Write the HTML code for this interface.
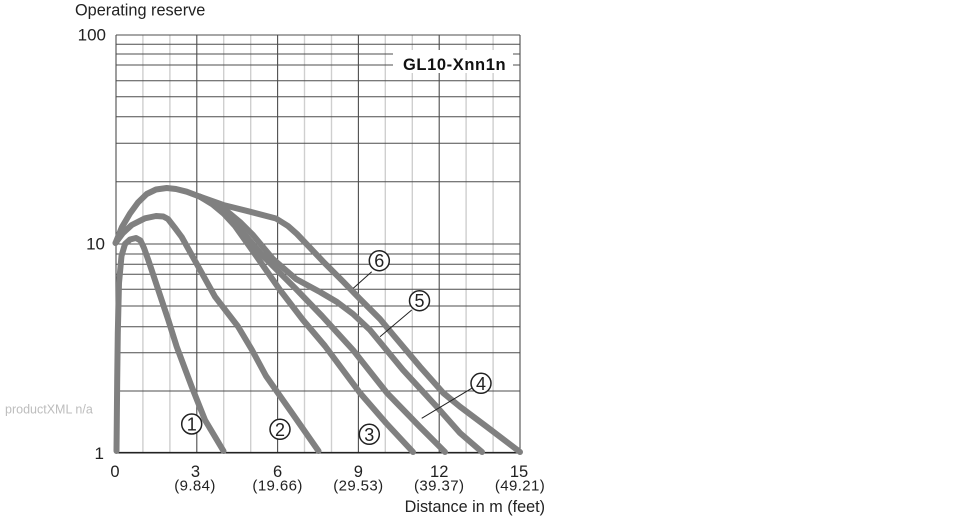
<!DOCTYPE html>
<html>
<head>
<meta charset="utf-8">
<style>
html,body{margin:0;padding:0;background:#fff;}
body{width:970px;height:520px;overflow:hidden;}
svg{display:block;}
text{font-family:"Liberation Sans",sans-serif;fill:#222;}
</style>
</head>
<body>
<svg width="970" height="520" viewBox="0 0 970 520" xmlns="http://www.w3.org/2000/svg">
<rect width="970" height="520" fill="#fff"/>
<!-- minor verticals -->
<g stroke="#cfcfcf" stroke-width="1.4">
<line x1="142.9" y1="35" x2="142.9" y2="452.7"/>
<line x1="169.9" y1="35" x2="169.9" y2="452.7"/>
<line x1="223.7" y1="35" x2="223.7" y2="452.7"/>
<line x1="250.7" y1="35" x2="250.7" y2="452.7"/>
<line x1="304.5" y1="35" x2="304.5" y2="452.7"/>
<line x1="331.5" y1="35" x2="331.5" y2="452.7"/>
<line x1="385.3" y1="35" x2="385.3" y2="452.7"/>
<line x1="412.3" y1="35" x2="412.3" y2="452.7"/>
<line x1="466.1" y1="35" x2="466.1" y2="452.7"/>
<line x1="493.1" y1="35" x2="493.1" y2="452.7"/>
</g>
<!-- major verticals -->
<g stroke="#4d4d4d" stroke-width="1.1">
<line x1="116" y1="35" x2="116" y2="452.7"/>
<line x1="196.8" y1="35" x2="196.8" y2="452.7"/>
<line x1="277.6" y1="35" x2="277.6" y2="452.7"/>
<line x1="358.4" y1="35" x2="358.4" y2="452.7"/>
<line x1="439.2" y1="35" x2="439.2" y2="452.7"/>
<line x1="520" y1="35" x2="520" y2="452.7"/>
</g>
<!-- horizontals -->
<g stroke="#4d4d4d" stroke-width="1">
<line x1="116" y1="35" x2="520" y2="35"/>
<line x1="116" y1="44.3" x2="520" y2="44.3"/>
<line x1="116" y1="54" x2="520" y2="54"/>
<line x1="116" y1="65" x2="520" y2="65"/>
<line x1="116" y1="80.7" x2="520" y2="80.7"/>
<line x1="116" y1="96.7" x2="520" y2="96.7"/>
<line x1="116" y1="116.7" x2="520" y2="116.7"/>
<line x1="116" y1="143.3" x2="520" y2="143.3"/>
<line x1="116" y1="181.7" x2="520" y2="181.7"/>
<line x1="116" y1="244" x2="520" y2="244"/>
<line x1="116" y1="254" x2="520" y2="254"/>
<line x1="116" y1="264.3" x2="520" y2="264.3"/>
<line x1="116" y1="274.3" x2="520" y2="274.3"/>
<line x1="116" y1="289.3" x2="520" y2="289.3"/>
<line x1="116" y1="306" x2="520" y2="306"/>
<line x1="116" y1="326.7" x2="520" y2="326.7"/>
<line x1="116" y1="352.7" x2="520" y2="352.7"/>
<line x1="116" y1="391" x2="520" y2="391"/>
</g>
<line x1="116" y1="452.7" x2="520" y2="452.7" stroke="#222" stroke-width="1.6"/>
<!-- label box -->
<rect x="393" y="50" width="120" height="23" fill="#fff"/>
<text x="403" y="70" font-size="16.5" font-weight="bold" letter-spacing="0.6" style="fill:#111">GL10-Xnn1n</text>

<!-- curves -->
<g fill="none" stroke="#808080" stroke-width="6" stroke-linecap="round" stroke-linejoin="round">
<polyline points="116.5,451 117.2,380 117.8,333 119,283 121.5,256 125,244 130,239.5 136,238 140.5,240.5 144,248 148.3,260 158.3,290 168.3,320 176.7,346.7 191.7,386.7 205,420 223.5,451"/>
<polyline points="115.5,243 123,233 131.7,225 145,218.3 156,216 163.3,216.5 168,219 175,228 181.7,237 198.3,266.7 215,296.7 238,326.5 252,350 266,376 292,413 318.5,451"/>
<polyline points="115.5,243 122,227 130,213.5 138,202.5 146.7,194 156,189.5 166.7,188 176,189 186.7,191.7 200,196.7 223.3,205 250,211.7 276,218.5 288,226 297,234 323.3,261.7 343.3,281.7 360,299 380,319 393.3,335 420,366.7 443.3,393 460,406.7 486.7,426.7 520,452"/>
<polyline points="200,196.7 212,203 228,212 240,222 253,235 273,259 296,279 320,292 337,302 353,314 370,330 403,370 437,407 460,433 482,452"/>
<polyline points="200,196.7 212,203.5 226,214 245,235 263,256 296,289 322,316 353,350 387,393 420,427 445,452"/>
<polyline points="200,196.7 212,204 224,214 235,226 257,257 280,290 303,320 325,346 360,393 386,423 413,452"/>
</g>

<!-- leaders -->
<g stroke="#222" stroke-width="1">
<line x1="371.7" y1="271.7" x2="353.3" y2="288.3"/>
<line x1="411.7" y1="310" x2="380" y2="336.7"/>
<line x1="471.7" y1="388.3" x2="421.7" y2="418.3"/>
</g>
<!-- circled labels -->
<g stroke="#222" stroke-width="1.5" fill="#fff">
<circle cx="191.7" cy="424" r="10"/>
<circle cx="280" cy="429.3" r="10"/>
<circle cx="369.3" cy="434.3" r="10"/>
<circle cx="481" cy="383.3" r="10"/>
<circle cx="419.5" cy="300.7" r="10"/>
<circle cx="379.3" cy="260.7" r="10"/>
</g>
<g font-size="18" text-anchor="middle" style="fill:#111">
<text x="191.7" y="430.5">1</text>
<text x="280" y="435.8">2</text>
<text x="369.3" y="440.8">3</text>
<text x="481" y="389.8">4</text>
<text x="419.5" y="307.2">5</text>
<text x="379.3" y="267.2">6</text>
</g>

<!-- axis text -->
<text x="75" y="15.5" font-size="16.3">Operating reserve</text>
<text x="106" y="40.5" font-size="17" text-anchor="end">100</text>
<text x="105" y="249.5" font-size="17" text-anchor="end">10</text>
<text x="104" y="459" font-size="17" text-anchor="end">1</text>
<g font-size="16.5" text-anchor="middle">
<text x="115" y="477">0</text>
<text x="195.5" y="477">3</text>
<text x="277.6" y="477">6</text>
<text x="358.4" y="477">9</text>
<text x="439.2" y="477">12</text>
<text x="519" y="477">15</text>
</g>
<g font-size="15" text-anchor="middle" letter-spacing="0.4">
<text x="195" y="490.5">(9.84)</text>
<text x="277.6" y="490.5">(19.66)</text>
<text x="358.4" y="490.5">(29.53)</text>
<text x="439.2" y="490.5">(39.37)</text>
<text x="520" y="490.5">(49.21)</text>
</g>
<text x="545" y="512" font-size="16.2" text-anchor="end">Distance in m (feet)</text>
<text x="5" y="413.5" font-size="12.5" style="fill:#bdbdbd">productXML n/a</text>
</svg>
</body>
</html>
